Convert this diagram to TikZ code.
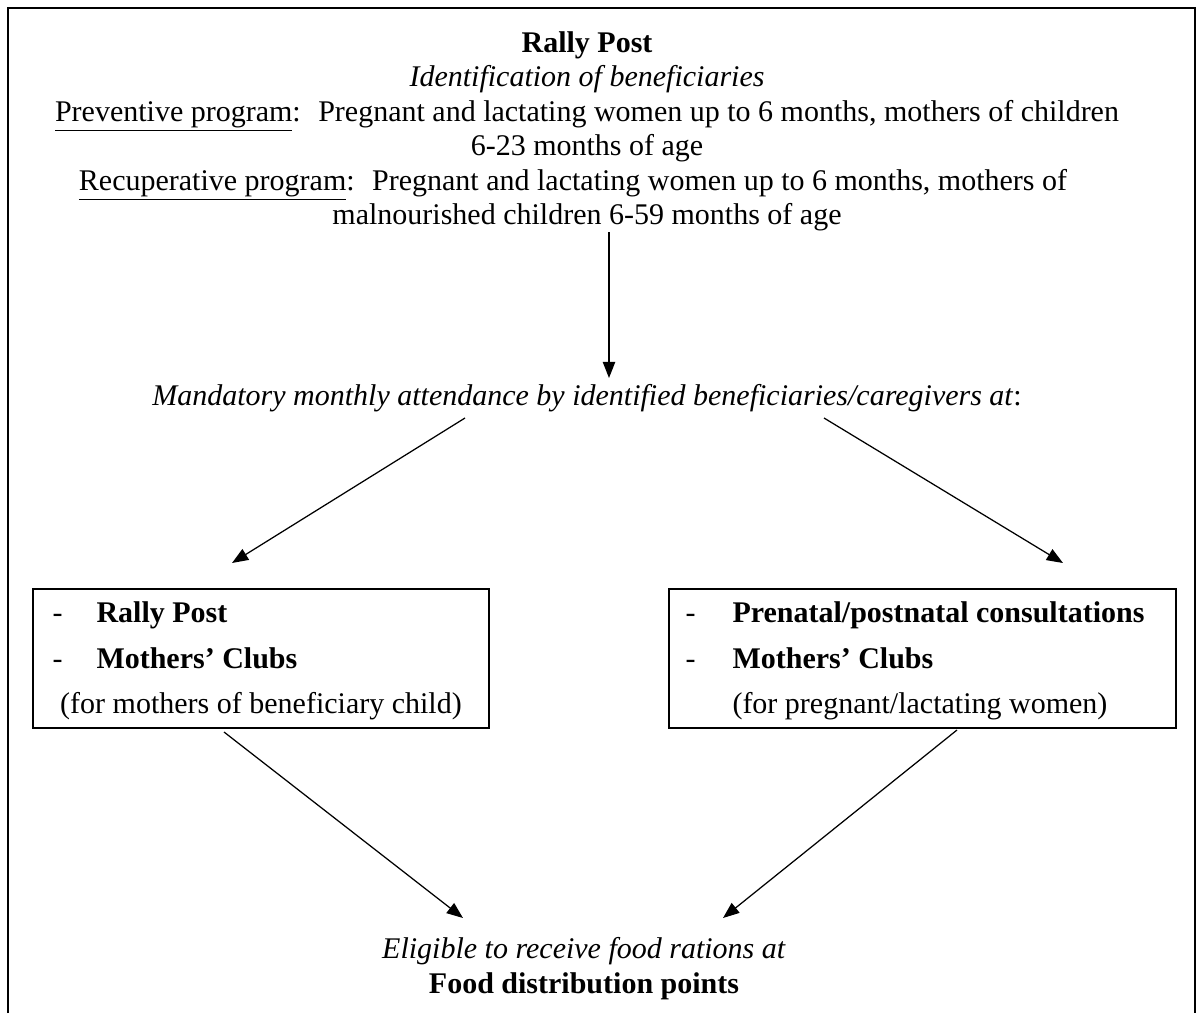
\documentclass[12pt,tikz,border=0pt]{standalone}
\usepackage{fontspec}
\setmainfont{Liberation Serif}
\usetikzlibrary{arrows.meta}

\tikzset{
  flecha/.style={-{Triangle[length=6.5pt,width=5pt]}, line width=0.5pt},
  caja/.style={draw, line width=0.8pt, inner sep=0pt},
  linea/.style={anchor=base, inner sep=0pt},
  lineaizq/.style={anchor=base west, inner sep=0pt},
}

\begin{document}
\begin{tikzpicture}[x=0.4pt, y=-0.4pt, font=\fontsize{12pt}{13.8pt}\selectfont]
        \useasboundingbox (0,0) rectangle (1198,1013);
        % Marco exterior (abierto abajo)
        \draw[line width=0.8pt] (8,1013) -- (8,8) -- (1195,8) -- (1195,1013);

        % Bloque superior
        \node[linea] (titulo) at (587,52) {\textbf{Rally Post}};
        \node[linea] (ident) at (587,86.5) {\textit{Identification of beneficiaries}};
        \node[linea] (prev1) at (587,121) {\underline{Preventive program}: \ Pregnant and lactating women up to 6 months, mothers of children};
        \node[linea] (prev2) at (587,155.5) {6-23 months of age};
        \node[linea] (recu1) at (573,190) {\underline{Recuperative program}: \ Pregnant and lactating women up to 6 months, mothers of};
        \node[linea] (recu2) at (587,224.5) {malnourished children 6-59 months of age};

        % Flecha vertical
        \coordinate (v1) at (609,232);
        \coordinate (v2) at (609,378);
        \draw[flecha] (v1) -- (v2);

        \node[linea] (asist) at (587,405) {\textit{Mandatory monthly attendance by identified beneficiaries/caregivers at}:};

        % Flechas hacia las cajas
        \coordinate (a1) at (465,418);
        \coordinate (a2) at (232,563);
        \coordinate (b1) at (824,418);
        \coordinate (b2) at (1063,563);
        \draw[flecha] (a1) -- (a2);
        \draw[flecha] (b1) -- (b2);

        % Caja izquierda
        \node[caja, minimum width=182.4pt, minimum height=55.6pt] (cajaizq) at (261,658.5) {};
        \node[lineaizq] (guion1) at (52,622) {-};
        \node[lineaizq] (izq1) at (96,622) {\textbf{Rally Post}};
        \node[lineaizq] (guion2) at (52,668) {-};
        \node[lineaizq] (izq2) at (96,668) {\textbf{Mothers’ Clubs}};
        \node[linea] (izq3) at (261,713) {(for mothers of beneficiary child)};

        % Caja derecha
        \node[caja, minimum width=202.8pt, minimum height=55.6pt] (cajader) at (922.5,658.5) {};
        \node[lineaizq] (guion3) at (685,622) {-};
        \node[lineaizq] (der1) at (732,622) {\textbf{Prenatal/postnatal consultations}};
        \node[lineaizq] (guion4) at (685,668) {-};
        \node[lineaizq] (der2) at (732,668) {\textbf{Mothers’ Clubs}};
        \node[lineaizq] (der3) at (732,713) {(for pregnant/lactating women)};

        % Flechas hacia abajo
        \coordinate (c1) at (224,732);
        \coordinate (c2) at (463,918);
        \coordinate (d1) at (957,730);
        \coordinate (d2) at (723,918);
        \draw[flecha] (c1) -- (c2);
        \draw[flecha] (d1) -- (d2);

        % Texto final
        \node[linea] (elegible) at (584,958) {\textit{Eligible to receive food rations at}};
        \node[linea] (puntos) at (584,993) {\textbf{Food distribution points}};
    \end{tikzpicture}
\end{document}
